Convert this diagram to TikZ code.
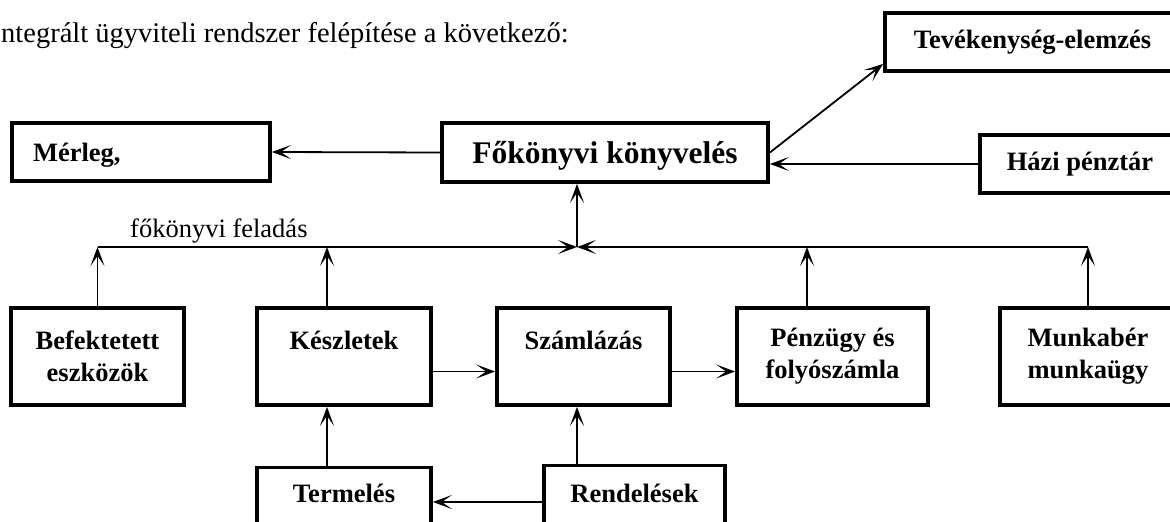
\documentclass[tikz,border=0pt]{standalone}
\usepackage{fontspec}
\setmainfont{Liberation Serif}
\usetikzlibrary{arrows.meta}

\begin{document}
\begin{tikzpicture}[x=1pt,y=-1pt,
  box/.style={draw,line width=3.8pt,font=\fontsize{26.5}{32}\selectfont\bfseries,align=center,inner sep=0pt},
  arr/.style={line width=1.8pt,-{Stealth[length=19pt,width=14pt,inset=10pt]}},
  lbl/.style={font=\fontsize{26.5}{32}\selectfont,inner sep=0pt,anchor=base west}]
  \useasboundingbox (0,0) rectangle (1170,522);
  \clip (0,0) rectangle (1170,522);
  \node[lbl,font=\fontsize{28.5}{34}\selectfont] (cim) at (1,42) {ntegrált ügyviteli rendszer felépítése a következő:};
  % Upper part of the Figure
  \node[box,minimum width=258pt,minimum height=58pt,text width=216pt,text depth=0pt,align=left] (merleg) at (141,152) {Mérleg,};
  \node[box,minimum width=326pt,minimum height=59pt,text depth=0pt,font=\fontsize{31.5}{36}\selectfont\bfseries] (fok) at (605,152.5) {Főkönyvi könyvelés};
  \node[box,minimum width=295pt,minimum height=58pt] (tev) at (1032.5,42) {Tevékenység-elemzés};
  \node[box,minimum width=200pt,minimum height=58pt] (hazi) at (1080,164) {Házi pénztár};
  \draw[arr] (fok.west) -- (merleg.east);
  \draw[arr] (hazi.west) -- (hazi.west -| fok.east);
  \draw[arr] (fok.east) -- ([yshift=9pt]tev.south west);
  % Lower part of the Figure
  \node[box,minimum width=173pt,minimum height=97pt] (bef) at (97.5,356.5) {Befektetett\\eszközök};
  \node[box,minimum width=174pt,minimum height=97pt] (kesz) at (344,356.5) {Készletek\\\mbox{}};
  \node[box,minimum width=173pt,minimum height=97pt] (szaml) at (583.5,356.5) {Számlázás\\\mbox{}};
  \node[box,minimum width=191pt,minimum height=97pt] (penz) at (832.5,356.5) {Pénzügy és\\folyószámla};
  \node[box,minimum width=176pt,minimum height=97pt] (munka) at (1088,356.5) {Munkabér\\munkaügy};
  \node[box,minimum width=174pt,text depth=30pt,inner ysep=16pt,anchor=base] (term) at (344,502) {Termelés};
  \node[box,minimum width=181pt,text depth=30pt,inner ysep=18pt,anchor=base] (rend) at (634.5,502) {Rendelések};
  % fokonyvi feladas
  \coordinate (bus) at (577,247);
  \node[lbl] (feladas) at (130,237) {főkönyvi feladás};
  \draw[arr] (bef.north |- bus) -- (bus);
  \draw[arr] (munka.north |- bus) -- (bus);
  \draw[arr] (bus) -- (fok.south -| bus);
  \draw[arr] (bef.north) -- (bef.north |- bus);
  \draw[arr] ([xshift=-17pt]kesz.north) -- ([xshift=-17pt]kesz.north |- bus);
  \draw[arr] ([xshift=-25.5pt]penz.north) -- ([xshift=-25.5pt]penz.north |- bus);
  \draw[arr] (munka.north) -- (munka.north |- bus);
  \draw[arr] ([yshift=-15pt]kesz.east) -- ([yshift=-15pt]szaml.west);
  \draw[arr] ([yshift=-15pt]szaml.east) -- ([yshift=-15pt]penz.west);
  \draw[arr] ([xshift=-17pt]term.north) -- ([xshift=-17pt]kesz.south);
  \draw[arr] (rend.north -| bus) -- (szaml.south -| bus);
  \draw[arr] (rend.base west) -- (term.base east);
\end{tikzpicture}
\end{document}
